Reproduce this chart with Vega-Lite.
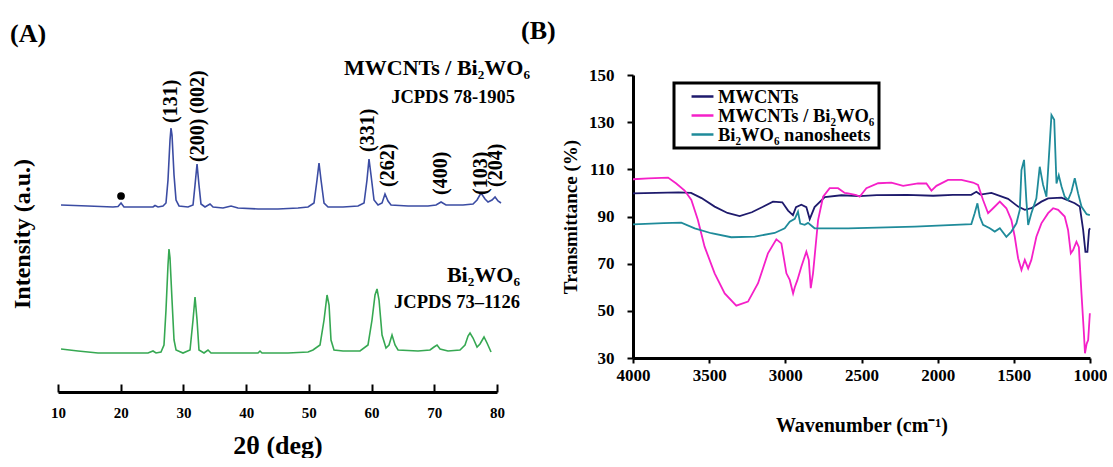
{
  "$schema": "https://vega.github.io/schema/vega-lite/v6.json",
  "background": "white",
  "padding": {"left": 10, "top": 18, "right": 0, "bottom": 0},
  "bounds": "flush",
  "spacing": 136,
  "config": {
    "view": {"stroke": null},
    "font": "Liberation Serif",
    "text": {"font": "Liberation Serif", "fontWeight": "bold", "color": "black"},
    "axis": {"labelFont": "Liberation Serif", "titleFont": "Liberation Serif", "labelFontWeight": "bold", "titleFontWeight": "bold", "labelColor": "black", "titleColor": "black", "domainColor": "black", "tickColor": "black", "grid": false},
    "title": {"font": "Liberation Serif", "fontWeight": "bold", "color": "black"}
  },
  "datasets": {
    "xrd": [
      {"s": "c", "t": 10.48, "i": 58.99}, {"s": "c", "t": 14.78, "i": 58.68}, {"s": "c", "t": 18.77, "i": 58.36}, {"s": "c", "t": 19.57, "i": 58.52}, {"s": "c", "t": 20.05, "i": 59.62}, {"s": "c", "t": 20.52, "i": 58.36}, {"s": "c", "t": 22.76, "i": 58.36}, {"s": "c", "t": 25.15, "i": 58.36}, {"s": "c", "t": 25.47, "i": 58.83}, {"s": "c", "t": 25.95, "i": 58.36}, {"s": "c", "t": 26.74, "i": 58.68}, {"s": "c", "t": 27.22, "i": 59.62}, {"s": "c", "t": 27.54, "i": 66.88}, {"s": "c", "t": 27.86, "i": 79.50}, {"s": "c", "t": 28.02, "i": 83.28}, {"s": "c", "t": 28.18, "i": 81.07}, {"s": "c", "t": 28.50, "i": 68.45}, {"s": "c", "t": 28.82, "i": 60.57}, {"s": "c", "t": 29.30, "i": 58.68}, {"s": "c", "t": 30.73, "i": 58.36}, {"s": "c", "t": 31.53, "i": 58.99}, {"s": "c", "t": 31.85, "i": 65.30}, {"s": "c", "t": 32.17, "i": 71.92}, {"s": "c", "t": 32.48, "i": 65.30}, {"s": "c", "t": 32.80, "i": 59.31}, {"s": "c", "t": 33.44, "i": 58.36}, {"s": "c", "t": 34.24, "i": 59.31}, {"s": "c", "t": 34.72, "i": 58.36}, {"s": "c", "t": 36.31, "i": 58.04}, {"s": "c", "t": 37.59, "i": 58.68}, {"s": "c", "t": 38.70, "i": 58.04}, {"s": "c", "t": 41.89, "i": 57.73}, {"s": "c", "t": 45.08, "i": 57.73}, {"s": "c", "t": 48.27, "i": 58.04}, {"s": "c", "t": 49.87, "i": 58.36}, {"s": "c", "t": 50.82, "i": 59.62}, {"s": "c", "t": 51.30, "i": 66.88}, {"s": "c", "t": 51.62, "i": 72.24}, {"s": "c", "t": 51.94, "i": 66.88}, {"s": "c", "t": 52.42, "i": 59.62}, {"s": "c", "t": 53.06, "i": 58.36}, {"s": "c", "t": 55.45, "i": 58.36}, {"s": "c", "t": 57.84, "i": 58.68}, {"s": "c", "t": 58.80, "i": 59.62}, {"s": "c", "t": 59.27, "i": 66.88}, {"s": "c", "t": 59.59, "i": 73.50}, {"s": "c", "t": 59.91, "i": 68.45}, {"s": "c", "t": 60.39, "i": 60.57}, {"s": "c", "t": 61.03, "i": 58.99}, {"s": "c", "t": 61.67, "i": 59.62}, {"s": "c", "t": 62.14, "i": 62.46}, {"s": "c", "t": 62.62, "i": 60.25}, {"s": "c", "t": 63.10, "i": 58.99}, {"s": "c", "t": 65.81, "i": 58.68}, {"s": "c", "t": 69.00, "i": 58.68}, {"s": "c", "t": 70.28, "i": 58.99}, {"s": "c", "t": 71.08, "i": 59.94}, {"s": "c", "t": 71.87, "i": 58.99}, {"s": "c", "t": 74.58, "i": 58.99}, {"s": "c", "t": 76.18, "i": 59.31}, {"s": "c", "t": 76.82, "i": 60.57}, {"s": "c", "t": 77.45, "i": 62.78}, {"s": "c", "t": 78.09, "i": 60.88}, {"s": "c", "t": 78.57, "i": 59.94}, {"s": "c", "t": 79.21, "i": 60.57}, {"s": "c", "t": 79.69, "i": 61.51}, {"s": "c", "t": 80.16, "i": 60.25}, {"s": "c", "t": 80.64, "i": 59.62},
      {"s": "b", "t": 10.48, "i": 13.56}, {"s": "b", "t": 13.19, "i": 12.93}, {"s": "b", "t": 16.38, "i": 12.30}, {"s": "b", "t": 21.16, "i": 12.30}, {"s": "b", "t": 24.35, "i": 12.30}, {"s": "b", "t": 25.15, "i": 12.93}, {"s": "b", "t": 25.63, "i": 12.30}, {"s": "b", "t": 26.42, "i": 12.62}, {"s": "b", "t": 26.90, "i": 14.83}, {"s": "b", "t": 27.22, "i": 25.87}, {"s": "b", "t": 27.54, "i": 40.06}, {"s": "b", "t": 27.70, "i": 45.11}, {"s": "b", "t": 27.86, "i": 42.27}, {"s": "b", "t": 28.18, "i": 29.02}, {"s": "b", "t": 28.50, "i": 16.40}, {"s": "b", "t": 28.82, "i": 13.25}, {"s": "b", "t": 29.93, "i": 12.30}, {"s": "b", "t": 31.05, "i": 13.25}, {"s": "b", "t": 31.53, "i": 22.71}, {"s": "b", "t": 31.85, "i": 29.97}, {"s": "b", "t": 32.17, "i": 22.71}, {"s": "b", "t": 32.48, "i": 13.25}, {"s": "b", "t": 33.28, "i": 12.30}, {"s": "b", "t": 33.92, "i": 13.25}, {"s": "b", "t": 34.40, "i": 12.30}, {"s": "b", "t": 37.11, "i": 12.30}, {"s": "b", "t": 41.89, "i": 12.30}, {"s": "b", "t": 42.21, "i": 12.93}, {"s": "b", "t": 42.53, "i": 12.30}, {"s": "b", "t": 46.68, "i": 12.30}, {"s": "b", "t": 49.87, "i": 12.62}, {"s": "b", "t": 50.66, "i": 13.25}, {"s": "b", "t": 51.78, "i": 14.83}, {"s": "b", "t": 52.42, "i": 22.71}, {"s": "b", "t": 52.90, "i": 30.60}, {"s": "b", "t": 53.22, "i": 27.44}, {"s": "b", "t": 53.53, "i": 16.40}, {"s": "b", "t": 54.01, "i": 13.25}, {"s": "b", "t": 55.45, "i": 12.93}, {"s": "b", "t": 58.16, "i": 12.93}, {"s": "b", "t": 59.43, "i": 14.83}, {"s": "b", "t": 60.07, "i": 22.71}, {"s": "b", "t": 60.55, "i": 30.60}, {"s": "b", "t": 60.87, "i": 32.49}, {"s": "b", "t": 61.19, "i": 29.02}, {"s": "b", "t": 61.67, "i": 17.98}, {"s": "b", "t": 62.30, "i": 13.88}, {"s": "b", "t": 62.78, "i": 14.83}, {"s": "b", "t": 63.26, "i": 17.98}, {"s": "b", "t": 63.74, "i": 14.83}, {"s": "b", "t": 64.22, "i": 13.25}, {"s": "b", "t": 67.41, "i": 12.93}, {"s": "b", "t": 69.32, "i": 13.25}, {"s": "b", "t": 69.96, "i": 14.20}, {"s": "b", "t": 70.44, "i": 14.83}, {"s": "b", "t": 70.92, "i": 13.56}, {"s": "b", "t": 72.19, "i": 12.93}, {"s": "b", "t": 74.10, "i": 13.25}, {"s": "b", "t": 74.90, "i": 14.83}, {"s": "b", "t": 75.38, "i": 17.67}, {"s": "b", "t": 75.70, "i": 18.61}, {"s": "b", "t": 76.18, "i": 17.03}, {"s": "b", "t": 76.82, "i": 14.20}, {"s": "b", "t": 77.29, "i": 15.14}, {"s": "b", "t": 77.93, "i": 17.35}, {"s": "b", "t": 78.41, "i": 15.46}, {"s": "b", "t": 79.05, "i": 12.62}
    ],
    "peaks": [
      {"label": "(131)", "t": 28.02, "i": 84.86},
      {"label": "(200) (002)", "t": 32.33, "i": 72.56},
      {"label": "(331)", "t": 59.43, "i": 75.71},
      {"label": "(262)", "t": 62.62, "i": 64.67},
      {"label": "(400)", "t": 71.08, "i": 62.15},
      {"label": "(103)", "t": 77.45, "i": 62.15},
      {"label": "(204)", "t": 79.84, "i": 64.67}
    ],
    "notes": [
      {"role": "sample", "label": "MWCNTs / Bi₂WO₆", "t": 85.27, "i": 102.21},
      {"role": "card", "label": "JCPDS 78-1905", "t": 82.88, "i": 93.06},
      {"role": "sample", "label": "Bi₂WO₆", "t": 83.67, "i": 36.91},
      {"role": "card", "label": "JCPDS 73–1126", "t": 83.67, "i": 28.39}
    ],
    "marker": [{"t": 20.05, "i": 61.83}],
    "ftir": [
      {"s": "MWCNTs", "w": 4000, "tr": 99.8}, {"s": "MWCNTs", "w": 3850, "tr": 100}, {"s": "MWCNTs", "w": 3700, "tr": 100.2}, {"s": "MWCNTs", "w": 3619, "tr": 100}, {"s": "MWCNTs", "w": 3550, "tr": 97.8}, {"s": "MWCNTs", "w": 3464, "tr": 94.2}, {"s": "MWCNTs", "w": 3380, "tr": 91.5}, {"s": "MWCNTs", "w": 3300, "tr": 90.2}, {"s": "MWCNTs", "w": 3220, "tr": 91.8}, {"s": "MWCNTs", "w": 3150, "tr": 94}, {"s": "MWCNTs", "w": 3081, "tr": 96.3}, {"s": "MWCNTs", "w": 3020, "tr": 96}, {"s": "MWCNTs", "w": 2982, "tr": 92.5}, {"s": "MWCNTs", "w": 2950, "tr": 90.6}, {"s": "MWCNTs", "w": 2930, "tr": 94}, {"s": "MWCNTs", "w": 2895, "tr": 95}, {"s": "MWCNTs", "w": 2862, "tr": 94}, {"s": "MWCNTs", "w": 2840, "tr": 88.9}, {"s": "MWCNTs", "w": 2808, "tr": 94}, {"s": "MWCNTs", "w": 2741, "tr": 98.2}, {"s": "MWCNTs", "w": 2632, "tr": 99}, {"s": "MWCNTs", "w": 2512, "tr": 98.6}, {"s": "MWCNTs", "w": 2400, "tr": 99.1}, {"s": "MWCNTs", "w": 2200, "tr": 99.2}, {"s": "MWCNTs", "w": 2030, "tr": 98.8}, {"s": "MWCNTs", "w": 1900, "tr": 99.2}, {"s": "MWCNTs", "w": 1780, "tr": 99.2}, {"s": "MWCNTs", "w": 1746, "tr": 100.5}, {"s": "MWCNTs", "w": 1720, "tr": 99.3}, {"s": "MWCNTs", "w": 1647, "tr": 100}, {"s": "MWCNTs", "w": 1538, "tr": 97.5}, {"s": "MWCNTs", "w": 1472, "tr": 94.2}, {"s": "MWCNTs", "w": 1428, "tr": 92.8}, {"s": "MWCNTs", "w": 1385, "tr": 93.5}, {"s": "MWCNTs", "w": 1319, "tr": 96.3}, {"s": "MWCNTs", "w": 1275, "tr": 97.7}, {"s": "MWCNTs", "w": 1187, "tr": 98}, {"s": "MWCNTs", "w": 1100, "tr": 95.6}, {"s": "MWCNTs", "w": 1067, "tr": 94.2}, {"s": "MWCNTs", "w": 1045, "tr": 84.3}, {"s": "MWCNTs", "w": 1030, "tr": 75}, {"s": "MWCNTs", "w": 1017, "tr": 75}, {"s": "MWCNTs", "w": 1006, "tr": 84.3}, {"s": "MWCNTs", "w": 1000, "tr": 85},
      {"s": "MWCNTs / Bi₂WO₆", "w": 4000, "tr": 105.8}, {"s": "MWCNTs / Bi₂WO₆", "w": 3900, "tr": 106.2}, {"s": "MWCNTs / Bi₂WO₆", "w": 3770, "tr": 106.5}, {"s": "MWCNTs / Bi₂WO₆", "w": 3716, "tr": 104}, {"s": "MWCNTs / Bi₂WO₆", "w": 3661, "tr": 101}, {"s": "MWCNTs / Bi₂WO₆", "w": 3617, "tr": 97}, {"s": "MWCNTs / Bi₂WO₆", "w": 3574, "tr": 88.5}, {"s": "MWCNTs / Bi₂WO₆", "w": 3530, "tr": 77.2}, {"s": "MWCNTs / Bi₂WO₆", "w": 3464, "tr": 65.9}, {"s": "MWCNTs / Bi₂WO₆", "w": 3398, "tr": 57.4}, {"s": "MWCNTs / Bi₂WO₆", "w": 3322, "tr": 52.2}, {"s": "MWCNTs / Bi₂WO₆", "w": 3245, "tr": 53.9}, {"s": "MWCNTs / Bi₂WO₆", "w": 3179, "tr": 61.7}, {"s": "MWCNTs / Bi₂WO₆", "w": 3114, "tr": 74.4}, {"s": "MWCNTs / Bi₂WO₆", "w": 3059, "tr": 80.3}, {"s": "MWCNTs / Bi₂WO₆", "w": 3026, "tr": 78.6}, {"s": "MWCNTs / Bi₂WO₆", "w": 2993, "tr": 65.9}, {"s": "MWCNTs / Bi₂WO₆", "w": 2971, "tr": 63.1}, {"s": "MWCNTs / Bi₂WO₆", "w": 2949, "tr": 57.4}, {"s": "MWCNTs / Bi₂WO₆", "w": 2938, "tr": 60}, {"s": "MWCNTs / Bi₂WO₆", "w": 2921, "tr": 63}, {"s": "MWCNTs / Bi₂WO₆", "w": 2895, "tr": 68.7}, {"s": "MWCNTs / Bi₂WO₆", "w": 2862, "tr": 75.1}, {"s": "MWCNTs / Bi₂WO₆", "w": 2846, "tr": 71.6}, {"s": "MWCNTs / Bi₂WO₆", "w": 2833, "tr": 59.6}, {"s": "MWCNTs / Bi₂WO₆", "w": 2818, "tr": 66}, {"s": "MWCNTs / Bi₂WO₆", "w": 2785, "tr": 88.5}, {"s": "MWCNTs / Bi₂WO₆", "w": 2752, "tr": 98.4}, {"s": "MWCNTs / Bi₂WO₆", "w": 2709, "tr": 102}, {"s": "MWCNTs / Bi₂WO₆", "w": 2654, "tr": 102}, {"s": "MWCNTs / Bi₂WO₆", "w": 2610, "tr": 100}, {"s": "MWCNTs / Bi₂WO₆", "w": 2588, "tr": 99.8}, {"s": "MWCNTs / Bi₂WO₆", "w": 2534, "tr": 99.1}, {"s": "MWCNTs / Bi₂WO₆", "w": 2512, "tr": 98.4}, {"s": "MWCNTs / Bi₂WO₆", "w": 2468, "tr": 102}, {"s": "MWCNTs / Bi₂WO₆", "w": 2391, "tr": 104.1}, {"s": "MWCNTs / Bi₂WO₆", "w": 2304, "tr": 104.4}, {"s": "MWCNTs / Bi₂WO₆", "w": 2227, "tr": 103}, {"s": "MWCNTs / Bi₂WO₆", "w": 2129, "tr": 104}, {"s": "MWCNTs / Bi₂WO₆", "w": 2074, "tr": 104}, {"s": "MWCNTs / Bi₂WO₆", "w": 2041, "tr": 101}, {"s": "MWCNTs / Bi₂WO₆", "w": 2008, "tr": 103}, {"s": "MWCNTs / Bi₂WO₆", "w": 1932, "tr": 105.5}, {"s": "MWCNTs / Bi₂WO₆", "w": 1844, "tr": 105.5}, {"s": "MWCNTs / Bi₂WO₆", "w": 1768, "tr": 104.4}, {"s": "MWCNTs / Bi₂WO₆", "w": 1735, "tr": 103.4}, {"s": "MWCNTs / Bi₂WO₆", "w": 1702, "tr": 97}, {"s": "MWCNTs / Bi₂WO₆", "w": 1669, "tr": 91.4}, {"s": "MWCNTs / Bi₂WO₆", "w": 1636, "tr": 93.5}, {"s": "MWCNTs / Bi₂WO₆", "w": 1592, "tr": 96.3}, {"s": "MWCNTs / Bi₂WO₆", "w": 1549, "tr": 93.5}, {"s": "MWCNTs / Bi₂WO₆", "w": 1516, "tr": 88.5}, {"s": "MWCNTs / Bi₂WO₆", "w": 1494, "tr": 81.4}, {"s": "MWCNTs / Bi₂WO₆", "w": 1472, "tr": 72.3}, {"s": "MWCNTs / Bi₂WO₆", "w": 1450, "tr": 67.3}, {"s": "MWCNTs / Bi₂WO₆", "w": 1428, "tr": 71.6}, {"s": "MWCNTs / Bi₂WO₆", "w": 1406, "tr": 68}, {"s": "MWCNTs / Bi₂WO₆", "w": 1385, "tr": 71.6}, {"s": "MWCNTs / Bi₂WO₆", "w": 1352, "tr": 81.4}, {"s": "MWCNTs / Bi₂WO₆", "w": 1319, "tr": 87.1}, {"s": "MWCNTs / Bi₂WO₆", "w": 1275, "tr": 91.4}, {"s": "MWCNTs / Bi₂WO₆", "w": 1242, "tr": 93.5}, {"s": "MWCNTs / Bi₂WO₆", "w": 1209, "tr": 92.8}, {"s": "MWCNTs / Bi₂WO₆", "w": 1166, "tr": 90}, {"s": "MWCNTs / Bi₂WO₆", "w": 1144, "tr": 84.3}, {"s": "MWCNTs / Bi₂WO₆", "w": 1126, "tr": 74.4}, {"s": "MWCNTs / Bi₂WO₆", "w": 1111, "tr": 75.8}, {"s": "MWCNTs / Bi₂WO₆", "w": 1089, "tr": 79.3}, {"s": "MWCNTs / Bi₂WO₆", "w": 1073, "tr": 77}, {"s": "MWCNTs / Bi₂WO₆", "w": 1056, "tr": 57.4}, {"s": "MWCNTs / Bi₂WO₆", "w": 1040, "tr": 40.5}, {"s": "MWCNTs / Bi₂WO₆", "w": 1033, "tr": 32}, {"s": "MWCNTs / Bi₂WO₆", "w": 1022, "tr": 36}, {"s": "MWCNTs / Bi₂WO₆", "w": 1012, "tr": 37.6}, {"s": "MWCNTs / Bi₂WO₆", "w": 1001, "tr": 49},
      {"s": "Bi₂WO₆ nanosheets", "w": 4000, "tr": 86.7}, {"s": "Bi₂WO₆ nanosheets", "w": 3800, "tr": 87.2}, {"s": "Bi₂WO₆ nanosheets", "w": 3683, "tr": 87.4}, {"s": "Bi₂WO₆ nanosheets", "w": 3595, "tr": 85}, {"s": "Bi₂WO₆ nanosheets", "w": 3486, "tr": 82.9}, {"s": "Bi₂WO₆ nanosheets", "w": 3355, "tr": 81.2}, {"s": "Bi₂WO₆ nanosheets", "w": 3201, "tr": 81.5}, {"s": "Bi₂WO₆ nanosheets", "w": 3070, "tr": 83}, {"s": "Bi₂WO₆ nanosheets", "w": 3004, "tr": 85}, {"s": "Bi₂WO₆ nanosheets", "w": 2971, "tr": 87.8}, {"s": "Bi₂WO₆ nanosheets", "w": 2938, "tr": 89}, {"s": "Bi₂WO₆ nanosheets", "w": 2917, "tr": 92}, {"s": "Bi₂WO₆ nanosheets", "w": 2902, "tr": 87}, {"s": "Bi₂WO₆ nanosheets", "w": 2873, "tr": 86.5}, {"s": "Bi₂WO₆ nanosheets", "w": 2851, "tr": 87.3}, {"s": "Bi₂WO₆ nanosheets", "w": 2808, "tr": 85}, {"s": "Bi₂WO₆ nanosheets", "w": 2720, "tr": 85}, {"s": "Bi₂WO₆ nanosheets", "w": 2588, "tr": 85}, {"s": "Bi₂WO₆ nanosheets", "w": 2150, "tr": 85.7}, {"s": "Bi₂WO₆ nanosheets", "w": 1779, "tr": 86.8}, {"s": "Bi₂WO₆ nanosheets", "w": 1757, "tr": 91.4}, {"s": "Bi₂WO₆ nanosheets", "w": 1739, "tr": 95.6}, {"s": "Bi₂WO₆ nanosheets", "w": 1724, "tr": 90}, {"s": "Bi₂WO₆ nanosheets", "w": 1702, "tr": 86.5}, {"s": "Bi₂WO₆ nanosheets", "w": 1658, "tr": 85}, {"s": "Bi₂WO₆ nanosheets", "w": 1625, "tr": 83.6}, {"s": "Bi₂WO₆ nanosheets", "w": 1592, "tr": 85}, {"s": "Bi₂WO₆ nanosheets", "w": 1549, "tr": 81.4}, {"s": "Bi₂WO₆ nanosheets", "w": 1516, "tr": 83.6}, {"s": "Bi₂WO₆ nanosheets", "w": 1483, "tr": 87.1}, {"s": "Bi₂WO₆ nanosheets", "w": 1461, "tr": 92.8}, {"s": "Bi₂WO₆ nanosheets", "w": 1450, "tr": 109.7}, {"s": "Bi₂WO₆ nanosheets", "w": 1433, "tr": 114}, {"s": "Bi₂WO₆ nanosheets", "w": 1418, "tr": 97}, {"s": "Bi₂WO₆ nanosheets", "w": 1406, "tr": 86.4}, {"s": "Bi₂WO₆ nanosheets", "w": 1385, "tr": 91.4}, {"s": "Bi₂WO₆ nanosheets", "w": 1352, "tr": 97.7}, {"s": "Bi₂WO₆ nanosheets", "w": 1330, "tr": 111.1}, {"s": "Bi₂WO₆ nanosheets", "w": 1308, "tr": 103.4}, {"s": "Bi₂WO₆ nanosheets", "w": 1286, "tr": 98.4}, {"s": "Bi₂WO₆ nanosheets", "w": 1275, "tr": 109.7}, {"s": "Bi₂WO₆ nanosheets", "w": 1253, "tr": 133}, {"s": "Bi₂WO₆ nanosheets", "w": 1235, "tr": 131}, {"s": "Bi₂WO₆ nanosheets", "w": 1220, "tr": 104}, {"s": "Bi₂WO₆ nanosheets", "w": 1205, "tr": 107.5}, {"s": "Bi₂WO₆ nanosheets", "w": 1187, "tr": 102.7}, {"s": "Bi₂WO₆ nanosheets", "w": 1166, "tr": 98.4}, {"s": "Bi₂WO₆ nanosheets", "w": 1144, "tr": 97}, {"s": "Bi₂WO₆ nanosheets", "w": 1122, "tr": 100.5}, {"s": "Bi₂WO₆ nanosheets", "w": 1100, "tr": 106.2}, {"s": "Bi₂WO₆ nanosheets", "w": 1078, "tr": 99.8}, {"s": "Bi₂WO₆ nanosheets", "w": 1056, "tr": 94.2}, {"s": "Bi₂WO₆ nanosheets", "w": 1022, "tr": 91}, {"s": "Bi₂WO₆ nanosheets", "w": 1001, "tr": 90.6}
    ]
  },
  "hconcat": [
    {
      "width": 439,
      "height": 317,
      "title": {"text": "(A)", "anchor": "start", "frame": "group", "dx": -48, "fontSize": 26, "offset": 10},
      "layer": [
        {
          "data": {"name": "xrd"},
          "transform": [{"filter": "datum.s == 'c'"}],
          "mark": {"type": "line", "color": "#3b4ca3", "strokeWidth": 1.6},
          "encoding": {
            "x": {"field": "t", "type": "quantitative", "scale": {"domain": [10, 80], "nice": false},
              "axis": {"title": "2θ (deg)", "values": [10, 15, 20, 25, 30, 35, 40, 45, 50, 55, 60, 65, 70, 75, 80], "labelExpr": "datum.value % 10 == 0 ? datum.label : ''", "tickSize": -8, "tickWidth": 2, "domainWidth": 3, "labelFontSize": 15, "labelPadding": 21, "labelFlush": false, "labelOverlap": false, "titleFontSize": 26, "titlePadding": 12}},
            "y": {"field": "i", "type": "quantitative", "scale": {"domain": [0, 100], "nice": false},
              "axis": {"title": "Intensity (a.u.)", "domain": false, "ticks": false, "labels": false, "titleFontSize": 24, "titlePadding": 24}}
          }
        },
        {
          "data": {"name": "xrd"},
          "transform": [{"filter": "datum.s == 'b'"}],
          "mark": {"type": "line", "color": "#36a852", "strokeWidth": 1.6},
          "encoding": {
            "x": {"field": "t", "type": "quantitative"},
            "y": {"field": "i", "type": "quantitative"}
          }
        },
        {
          "mark": {"type": "rule", "strokeWidth": 3, "color": "black"},
          "encoding": {"x": {"datum": 10}, "y": {"datum": 0}, "y2": {"datum": 97.48}}
        },
        {
          "data": {"name": "peaks"},
          "mark": {"type": "text", "angle": 270, "align": "left", "baseline": "middle", "fontSize": 20},
          "encoding": {
            "x": {"field": "t", "type": "quantitative"},
            "y": {"field": "i", "type": "quantitative"},
            "text": {"field": "label"}
          }
        },
        {
          "data": {"name": "notes"},
          "transform": [{"filter": "datum.role == 'sample'"}],
          "mark": {"type": "text", "align": "right", "baseline": "middle", "fontSize": 22},
          "encoding": {
            "x": {"field": "t", "type": "quantitative"},
            "y": {"field": "i", "type": "quantitative"},
            "text": {"field": "label"}
          }
        },
        {
          "data": {"name": "notes"},
          "transform": [{"filter": "datum.role == 'card'"}],
          "mark": {"type": "text", "align": "right", "baseline": "middle", "fontSize": 18.5},
          "encoding": {
            "x": {"field": "t", "type": "quantitative"},
            "y": {"field": "i", "type": "quantitative"},
            "text": {"field": "label"}
          }
        },
        {
          "data": {"name": "marker"},
          "mark": {"type": "point", "filled": true, "color": "black", "size": 60, "opacity": 1},
          "encoding": {
            "x": {"field": "t", "type": "quantitative"},
            "y": {"field": "i", "type": "quantitative"}
          }
        }
      ]
    },
    {
      "width": 457,
      "height": 283,
      "title": {"text": "(B)", "anchor": "start", "frame": "group", "dx": -112, "fontSize": 26, "offset": 22},
      "data": {"name": "ftir"},
      "mark": {"type": "line", "strokeWidth": 1.8},
      "encoding": {
        "x": {"field": "w", "type": "quantitative", "scale": {"domain": [4000, 1000], "nice": false},
          "axis": {"title": "Wavenumber (cm⁻¹)", "values": [4000, 3500, 3000, 2500, 2000, 1500, 1000], "format": "d", "tickSize": 5, "tickWidth": 2, "domainWidth": 3, "labelFontSize": 17, "labelPadding": 4, "labelFlush": false, "labelOverlap": false, "titleFontSize": 20, "titlePadding": 32}},
        "y": {"field": "tr", "type": "quantitative", "scale": {"domain": [30, 150], "nice": false},
          "axis": {"title": "Transmittance (%)", "values": [30, 50, 70, 90, 110, 130, 150], "tickSize": 6, "tickWidth": 2, "domainWidth": 3, "labelFontSize": 17, "labelPadding": 13, "labelFlush": false, "labelOverlap": false, "titleFontSize": 19, "titlePadding": 8}},
        "color": {"field": "s", "type": "nominal",
          "scale": {"domain": ["MWCNTs", "MWCNTs / Bi₂WO₆", "Bi₂WO₆ nanosheets"], "range": ["#1e1a6c", "#f520c8", "#1f8b9a"]},
          "legend": {"orient": "none", "legendX": 616, "legendY": 8, "title": null, "symbolType": "stroke", "symbolStrokeWidth": 2.5, "symbolSize": 480, "symbolOffset": 12, "labelFontSize": 18.5, "labelFont": "Liberation Serif", "labelFontWeight": "bold", "labelColor": "black", "strokeColor": "black", "padding": 4, "rowPadding": 0, "labelOffset": 3, "clipHeight": 19, "fillColor": "white",
            "encode": {"legend": {"update": {"strokeWidth": {"value": 3}}}}}}
      }
    }
  ]
}
